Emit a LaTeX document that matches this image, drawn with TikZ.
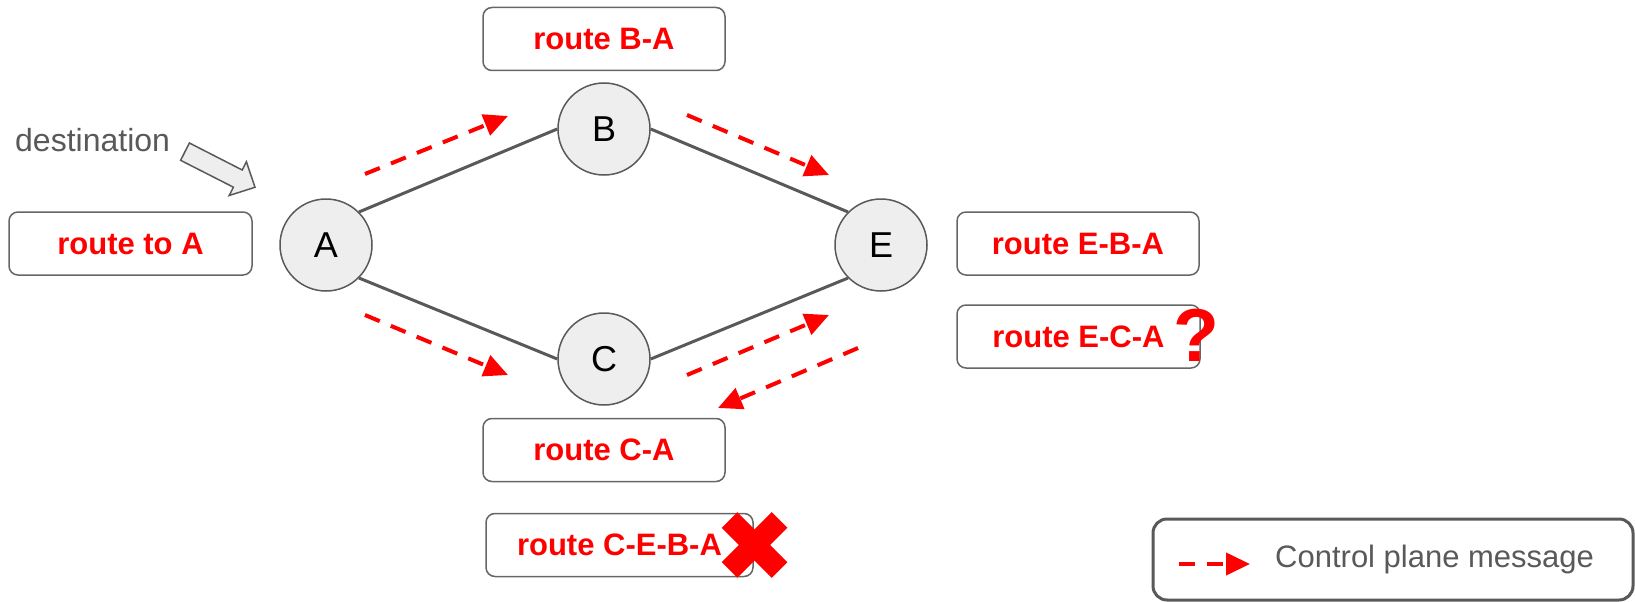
\documentclass[tikz,border=0pt]{standalone}
\usepackage{fontspec}
\setmainfont{Liberation Sans}
\usetikzlibrary{arrows.meta}
\definecolor{edgegray}{HTML}{595959}
\definecolor{boxgray}{HTML}{666666}
\definecolor{nodefill}{HTML}{EEEEEE}
\definecolor{msgred}{HTML}{FF0000}

\begin{document}
\begin{tikzpicture}[x=1pt,y=-1pt,
  router/.style={circle, draw=edgegray, line width=1.5pt, fill=nodefill,
    minimum size=92pt, inner sep=0pt, font=\fontsize{36}{40}\selectfont},
  routebox/.style={rectangle, rounded corners=9pt, draw=boxgray, line width=1.5pt,
    inner sep=0pt, minimum width=242pt, minimum height=63pt, text=msgred,
    font=\bfseries\fontsize{31}{36}\selectfont},
  link/.style={draw=edgegray, line width=3pt},
  msg/.style={draw=msgred, line width=4pt, dash pattern=on 16pt off 12pt,
    -{Triangle[length=24pt,width=22pt]}},
  graytext/.style={text=edgegray, font=\fontsize{31}{36}\selectfont, inner sep=0pt},
]
\useasboundingbox (0,0) rectangle (1635,602);

% routers
\node[router] (A) at (326,245) {A};
\node[router] (B) at (604,129) {B};
\node[router] (C) at (604,359) {C};
\node[router] (E) at (881,245) {E};

% links
\draw[link] (A.45) -- (B.west);
\draw[link] (A.-45) -- (C.west);
\draw[link] (B.east) -- (E.135);
\draw[link] (C.east) -- (E.-135);

% routing tables
\node[routebox] (rBA) at (604,39) {route B-A};
\node[routebox, minimum width=243pt] (rA) at (130.5,243.5) {route to A};
\node[routebox] (rEBA) at (1078,243.5) {route E-B-A};
\node[routebox, minimum width=243pt] (rECA) at (1078.5,336.5) {route E-C-A};
\node[routebox] (rCA) at (604,450) {route C-A};
\node[routebox, minimum width=267pt] (rCEBA) at (619.5,545) {route C-E-B-A};

% rejected / questionable routes
\node[text=msgred, font=\bfseries\fontsize{75}{75}\selectfont, inner sep=0pt]
  (q) at (1196,335) {?};
\coordinate (x1) at (729.5,520);
\coordinate (x2) at (779.5,570);
\coordinate (x3) at (779.5,520);
\coordinate (x4) at (729.5,570);
\draw[msgred, line width=22pt] (x1) -- (x2);
\draw[msgred, line width=22pt] (x3) -- (x4);

% control plane messages
\coordinate (m1s) at (365,174);  \coordinate (m1e) at (508,116);
\coordinate (m2s) at (687,115);  \coordinate (m2e) at (829,175);
\coordinate (m3s) at (365,315);  \coordinate (m3e) at (508,375);
\coordinate (m4s) at (687,375);  \coordinate (m4e) at (829,315);
\coordinate (m5s) at (858,348);  \coordinate (m5e) at (718,408);
\draw[msg] (m1s) -- (m1e);
\draw[msg] (m2s) -- (m2e);
\draw[msg] (m3s) -- (m3e);
\draw[msg] (m4s) -- (m4e);
\draw[msg] (m5s) -- (m5e);

% destination marker
\node[graytext, anchor=base west, font=\fontsize{32}{36}\selectfont] (dest) at (15,151) {destination};
\draw[draw=edgegray, fill=nodefill, line width=1.5pt, line join=miter]
  (189.4,143.0) -- (242.2,170.0) -- (246.4,161.7) -- (255,187.3)
  -- (229.2,195.5) -- (233.4,187.2) -- (180.6,160.3) -- cycle;

% legend
\node[draw=edgegray, line width=3pt, rounded corners=14pt, minimum width=480pt,
  minimum height=81pt, inner sep=0pt] (legend) at (1393,559.5) {};
\coordinate (ls) at (1179,564);
\coordinate (le) at (1250,564);
\draw[msg] (ls) -- (le);
\node[graytext, anchor=base west] (ltext) at (1275,567) {Control plane message};
\end{tikzpicture}
\end{document}
